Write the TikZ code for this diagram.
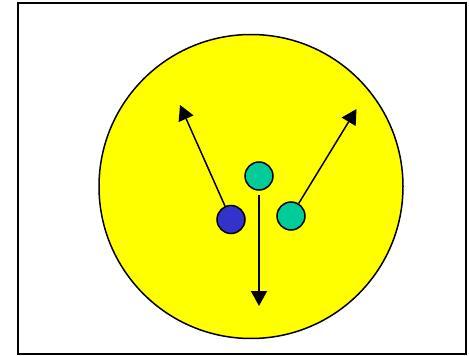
\documentclass[tikz,border=0pt]{standalone}
\usetikzlibrary{arrows.meta}
\definecolor{ballblue}{HTML}{3333CC}
\definecolor{ballteal}{HTML}{00CC99}
\definecolor{cellyellow}{HTML}{FFFF00}
\tikzset{
  ball/.style={circle,draw=black,line width=1.5pt,minimum size=28pt,inner sep=0pt},
  motion/.style={line width=1.5pt,-{Triangle[length=15pt,width=16pt]}}
}
\begin{document}
\begin{tikzpicture}[x=1pt,y=-1pt]
\useasboundingbox (0,0) rectangle (469,356);
\node[draw=black,line width=2pt,minimum width=448pt,minimum height=351pt,inner sep=0pt] (frame) at (242,178.5) {};
\node[circle,draw=black,line width=1.5pt,fill=cellyellow,minimum size=304pt,inner sep=0pt] (cell) at (251,186.5) {};
\node[ball,fill=ballblue] (blue) at (231,219.5) {};
\node[ball,fill=ballteal] (top) at (259,176) {};
\node[ball,fill=ballteal] (right) at (291,216) {};
\coordinate (tl) at (180,105);
\coordinate (tr) at (356.5,109);
\coordinate (tb) at (259,306);
\draw[motion] (blue) -- (tl);
\draw[motion] (right) -- (tr);
\draw[motion,shorten <=4pt] (top.south) -- (tb);
\end{tikzpicture}
\end{document}
